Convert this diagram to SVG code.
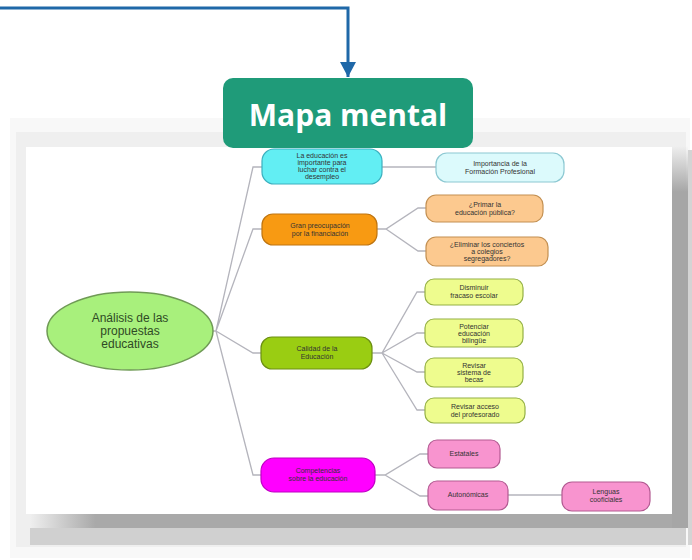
<svg xmlns="http://www.w3.org/2000/svg" width="692" height="560" viewBox="0 0 692 560">
<defs>
<style>
.nt{font-family:"Liberation Sans",Arial,sans-serif;font-size:7px;fill:#333;text-anchor:middle}
.rt{font-family:"Liberation Sans",Arial,sans-serif;font-size:12px;fill:#2f4a25;text-anchor:middle}
.conn{fill:none;stroke:#b4b4bc;stroke-width:1.3}
.n{stroke-width:1.2}
</style>
<linearGradient id="lfade" x1="0" y1="0" x2="1" y2="0">
<stop offset="0" stop-color="#a9a9a9" stop-opacity="0"/>
<stop offset="0.1" stop-color="#a9a9a9"/>
<stop offset="1" stop-color="#a9a9a9"/>
</linearGradient>
<linearGradient id="tfade" x1="0" y1="0" x2="0" y2="1">
<stop offset="0" stop-color="#a6a6a6" stop-opacity="0"/>
<stop offset="0.12" stop-color="#a6a6a6"/>
<stop offset="1" stop-color="#a6a6a6"/>
</linearGradient>
<marker id="arr" viewBox="0 0 15 16" refX="15" refY="8" markerWidth="15" markerHeight="16" markerUnits="userSpaceOnUse" orient="auto">
<path d="M0,0 L15,8 L0,16 Z" fill="#1f68a8"/>
</marker>
</defs>
<rect width="692" height="560" fill="#ffffff"/>
<g id="frame">
<rect x="10" y="118" width="680" height="440" fill="#f8f8f8"/>
<rect x="16" y="132" width="670" height="415" fill="#efefef"/>
<rect x="30" y="528" width="656" height="17" fill="#d0d0d0"/>
<rect x="30" y="514" width="656" height="14" fill="url(#lfade)"/>
<rect x="672" y="146" width="16" height="382" fill="url(#tfade)"/>
<rect x="688" y="150" width="4" height="395" fill="#d4d4d4"/>
<rect x="26" y="147" width="646" height="367" fill="#ffffff"/>
</g>
<g id="connectors">
<path class="conn" d="M213,331 H216 L253,167 H262 M216,331 L253,229 H262 M216,331 L253,353 H261 M216,331 L253,475 H261"/>
<path class="conn" d="M382,167 H436"/>
<path class="conn" d="M377,229 H386 L418,208 H426 M386,229 L418,251 H426"/>
<path class="conn" d="M372,353 H382 L417,292 H425 M382,353 L417,333 H425 M382,353 L417,372 H425 M382,353 L417,410 H425"/>
<path class="conn" d="M375,475 H385 L420,454 H428 M385,475 L420,496 H428"/>
<path class="conn" d="M508,495 H562"/>
<path d="M0,8 H348 V77" fill="none" stroke="#1f68a8" stroke-width="3" marker-end="url(#arr)"/>
</g>
<g id="root">
<ellipse cx="130" cy="331" rx="83" ry="39" fill="#a8f07c" stroke="#6f9a55" stroke-width="1.5"/>
<text class="rt" x="130" y="322">Análisis de  las</text>
<text class="rt" x="130" y="335">propuestas</text>
<text class="rt" x="130" y="348">educativas</text>
</g>
<g id="n-educacion">
<rect class="n" x="262" y="149" width="120" height="35" rx="12" fill="#62eef3" stroke="#3cb0bf"/>
<text class="nt" x="322" y="158">La educación es</text>
<text class="nt" x="322" y="165">importante para</text>
<text class="nt" x="322" y="172">luchar contra el</text>
<text class="nt" x="322" y="179">desempleo</text>
</g>
<g id="n-fp">
<rect class="n" x="436" y="153" width="128" height="29" rx="11" fill="#dcfafc" stroke="#8cc8d2"/>
<text class="nt" x="500" y="166">Importancia de la</text>
<text class="nt" x="500" y="174">Formación Profesional</text>
</g>
<g id="n-financiacion">
<rect class="n" x="262" y="214" width="115" height="31" rx="11" fill="#f89a12" stroke="#bf7510"/>
<text class="nt" x="320" y="228">Gran preocupación</text>
<text class="nt" x="320" y="236">por la financiación</text>
</g>
<g id="n-primar">
<rect class="n" x="426" y="195" width="117" height="27" rx="10" fill="#fcc98f" stroke="#c39052"/>
<text class="nt" x="485" y="207">¿Primar la</text>
<text class="nt" x="485" y="215">educación pública?</text>
</g>
<g id="n-eliminar">
<rect class="n" x="426" y="237" width="122" height="29" rx="10" fill="#fcc98f" stroke="#c39052"/>
<text class="nt" x="487" y="247">¿Eliminar los conciertos</text>
<text class="nt" x="487" y="254">a colegios</text>
<text class="nt" x="487" y="261">segregadores?</text>
</g>
<g id="n-calidad">
<rect class="n" x="261" y="337" width="111" height="32" rx="11" fill="#9acd12" stroke="#6c8f12"/>
<text class="nt" x="317" y="351">Calidad de la</text>
<text class="nt" x="317" y="359">Educación</text>
</g>
<g id="n-fracaso">
<rect class="n" x="425" y="279" width="98" height="26" rx="9" fill="#eefc8e" stroke="#94b044"/>
<text class="nt" x="474" y="290">Disminuir</text>
<text class="nt" x="474" y="298">fracaso escolar</text>
</g>
<g id="n-bilingue">
<rect class="n" x="425" y="319" width="98" height="28" rx="9" fill="#eefc8e" stroke="#94b044"/>
<text class="nt" x="474" y="329">Potenciar</text>
<text class="nt" x="474" y="336">educación</text>
<text class="nt" x="474" y="343">bilingüe</text>
</g>
<g id="n-becas">
<rect class="n" x="425" y="358" width="98" height="29" rx="9" fill="#eefc8e" stroke="#94b044"/>
<text class="nt" x="474" y="368">Revisar</text>
<text class="nt" x="474" y="375">sistema de</text>
<text class="nt" x="474" y="382">becas</text>
</g>
<g id="n-profesorado">
<rect class="n" x="425" y="398" width="100" height="25" rx="9" fill="#eefc8e" stroke="#94b044"/>
<text class="nt" x="475" y="409">Revisar acceso</text>
<text class="nt" x="475" y="417">del profesorado</text>
</g>
<g id="n-competencias">
<rect class="n" x="261" y="458" width="114" height="34" rx="13" fill="#ff00ff" stroke="#c000c4"/>
<text class="nt" x="318" y="473">Competencias</text>
<text class="nt" x="318" y="481">sobre la educación</text>
</g>
<g id="n-estatales">
<rect class="n" x="428" y="440" width="72" height="28" rx="9" fill="#f894cf" stroke="#b35a92"/>
<text class="nt" x="464" y="456">Estatales</text>
</g>
<g id="n-autonomicas">
<rect class="n" x="428" y="481" width="80" height="29" rx="9" fill="#f894cf" stroke="#b35a92"/>
<text class="nt" x="468" y="497">Autonómicas</text>
</g>
<g id="n-lenguas">
<rect class="n" x="562" y="482" width="88" height="29" rx="10" fill="#f894cf" stroke="#b35a92"/>
<text class="nt" x="606" y="494">Lenguas</text>
<text class="nt" x="606" y="502">cooficiales</text>
</g>
<g id="n-mapa">
<rect x="223" y="78" width="250" height="70" rx="10" fill="#1f9b79"/>
<text x="348" y="126" font-family="Open Sans,Liberation Sans,sans-serif" font-size="30" font-weight="bold" fill="#ffffff" text-anchor="middle">Mapa mental</text>
</g>
</svg>
